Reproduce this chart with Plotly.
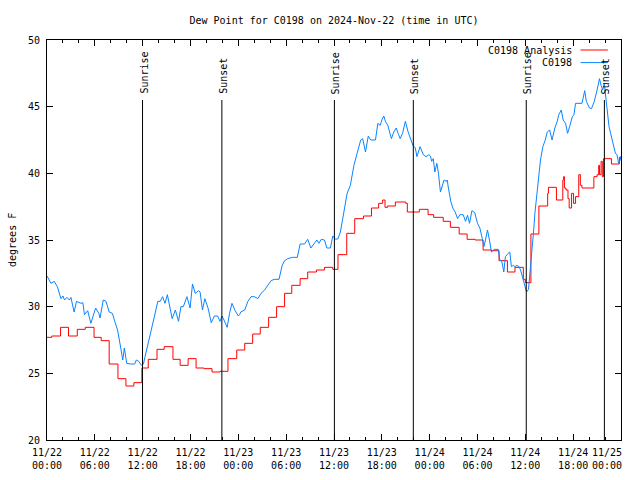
import pandas as pd
import plotly.graph_objects as go

start = pd.Timestamp("2024-11-22 00:00")

# C0198 observations: hours since 11/22 00:00 UTC, dew point (F)
blue_hours = [0.0, 0.3, 0.5, 0.9, 1.3, 1.75, 2.0, 2.2, 2.5, 2.8, 3.0, 3.4, 3.7, 4.26, 4.5, 4.7, 5.1, 5.5,
              6.1, 6.5, 6.65, 7.06, 7.4, 7.8, 8.2, 8.5, 8.85, 9.3, 9.5, 9.7, 10.0, 10.5, 11.0, 11.2, 11.5,
              11.85, 12.1, 12.3, 12.75, 13.15, 13.6, 13.9, 14.2, 14.5, 14.8, 15.1, 15.45, 15.7, 16.1, 16.5,
              16.8, 17.1, 17.55, 17.95, 18.25, 18.6, 19.0, 19.2, 19.5, 19.8, 20.2, 20.6, 21.0, 21.4, 21.7,
              21.95, 22.2, 22.6, 22.9, 23.2, 23.6, 24.0, 24.15, 24.3, 24.8, 25.2, 25.6, 26.0, 26.45, 26.85,
              27.3, 27.7, 28.1, 28.5, 29.1, 29.5, 29.8, 30.2, 30.8, 31.4, 31.75, 32.3, 32.7, 33.1, 33.5,
              33.85, 34.1, 34.4, 34.8, 35.1, 35.55, 35.85, 36.2, 36.5, 36.8, 37.2, 37.65, 38.05, 38.5, 38.9,
              39.35, 39.6, 39.95, 40.3, 40.6, 41.2, 41.5, 41.8, 42.0, 42.25, 42.45, 42.75, 43.0, 43.2, 43.5,
              43.8, 44.1, 44.3, 44.6, 44.95, 45.3, 45.6, 45.9, 46.2, 46.4, 46.8, 47.2, 47.55, 47.9, 48.1,
              48.25, 48.45, 48.65, 48.9, 49.1, 49.35, 49.55, 49.8, 50.1, 50.2, 50.35, 50.65, 50.9, 51.2,
              51.5, 51.8, 52.2, 52.5, 52.75, 53.0, 53.3, 53.65, 54.0, 54.3, 54.6, 54.8, 55.0, 55.25, 55.5,
              55.75, 56.1, 56.6, 56.8, 57.05, 57.3, 57.5, 57.85, 58.05, 58.25, 58.5, 58.7, 58.95, 59.2,
              59.4, 59.7, 59.95, 60.15, 60.4, 60.6, 60.85, 61.05, 61.2, 61.4, 61.65, 61.9, 62.2, 62.5,
              62.75, 63.05, 63.35, 63.7, 64.0, 64.2, 64.5, 64.75, 65.05, 65.3, 65.55, 65.9, 66.1, 66.3,
              67.1, 67.45, 67.65, 68.05, 68.3, 68.65, 69.0, 69.3, 69.5, 69.7, 69.9, 70.1, 70.3, 70.5, 70.7,
              70.9, 71.1, 71.3, 71.5, 71.7, 71.9, 72.0]
blue_values = [32.3, 32.0, 31.75, 31.9, 31.5, 30.6, 30.8, 30.5, 30.7, 30.5, 30.7, 29.6, 30.4, 30.25, 30.3, 29.4, 29.7, 28.75,
               29.9, 29.5, 29.15, 30.5, 30.4, 29.6, 29.5, 28.9, 28.25, 26.75, 26.0, 26.9, 25.75, 25.7, 25.7, 26.0, 25.9,
               25.6, 25.7, 26.25, 27.5, 28.6, 29.6, 30.4, 30.4, 30.75, 30.25, 30.9, 29.9, 29.1, 29.75, 28.9,
               30.0, 30.0, 30.75, 29.9, 31.7, 31.0, 31.2, 31.1, 29.75, 30.6, 29.9, 28.8, 29.3, 29.3, 28.9,
               29.3, 29.0, 28.45, 29.5, 30.25, 29.7, 29.3, 29.4, 29.6, 29.75, 30.4, 30.75, 30.75, 30.6, 31.0,
               31.25, 31.6, 31.95, 32.05, 32.05, 33.1, 33.45, 33.6, 33.7, 33.7, 34.7, 34.7, 35.05, 34.4, 34.75,
               35.0, 34.75, 35.05, 35.0, 34.4, 34.4, 35.3, 35.05, 35.1, 35.6, 36.9, 38.5, 39.1, 40.6, 41.5,
               42.5, 42.6, 41.6, 42.8, 42.5, 42.5, 43.75, 43.6, 44.0, 44.3, 43.9, 43.6, 43.1, 42.6, 43.1,
               43.4, 42.9, 42.6, 43.0, 43.9, 43.1, 42.6, 42.1, 41.9, 41.25, 42.0, 41.4, 41.25, 41.4, 41.3,
               40.9, 41.1, 40.1, 40.75, 40.0, 38.6, 39.1, 39.5, 39.4, 39.5, 38.9, 37.9, 37.4, 37.1,
               36.6, 36.9, 36.9, 36.4, 36.85, 36.25, 37.2, 37.05, 36.25, 35.9, 35.1, 34.5, 35.0, 35.75, 35.0,
               34.1, 34.3, 34.3, 33.5, 33.4, 32.6, 33.75, 34.0, 34.1, 33.0, 33.1, 33.0, 33.1, 33.0,
               32.75, 32.1, 31.5, 31.1, 31.3, 32.5, 34.5, 35.75, 37.0, 38.25, 39.75, 41.0, 42.0, 42.5,
               43.1, 43.25, 42.5, 43.4, 43.9, 44.4, 44.75, 44.0, 43.75, 43.0, 43.5, 44.25, 44.4, 45.25,
               45.25, 46.2, 45.4, 44.9, 44.85, 45.4, 46.25, 47.1, 46.6, 46.25, 46.75, 45.5, 44.4, 43.5, 43.0,
               42.5, 41.9, 41.5, 41.4, 40.75, 41.0, 41.3]

# C0198 Analysis: step start hours, dew point (F)
red_hours = [0.0, 0.6, 1.7, 2.7, 3.8, 4.8, 5.9, 6.8, 7.8, 8.9, 9.9, 10.9, 11.9, 12.7, 13.8, 14.7, 15.8,
             16.7, 17.7, 18.7, 19.7, 20.7, 21.7, 22.7, 23.8, 24.8, 25.8, 26.75, 27.8, 28.8, 29.8, 30.7,
             31.75, 32.7, 33.8, 34.8, 35.85, 36.5, 37.6, 38.6, 39.7, 40.7, 41.6, 42.1, 42.4, 42.7, 43.7,
             45.0, 45.2, 46.7, 47.8, 48.5, 49.7, 50.6, 51.7, 52.7, 53.7, 54.7, 55.75, 56.7, 57.75, 58.7,
             59.75, 60.0, 60.7, 61.7, 62.8, 62.9, 63.9, 64.7, 64.8, 64.9, 65.1, 65.35, 65.5, 65.8, 66.05,
             66.3, 66.7, 66.9, 67.1, 68.6, 69.0, 69.2, 69.3, 69.5, 69.65, 69.8, 70.8, 71.8, 72.0]
red_values = [27.7, 27.8, 28.45, 27.8, 28.3, 28.45, 27.7, 27.45, 25.7, 24.6, 24.05, 24.3, 25.4, 26.05, 26.8, 27.0, 26.05,
              25.6, 26.1, 25.4, 25.35, 25.1, 25.15, 26.1, 26.75, 27.25, 27.95, 28.45, 29.2, 30.0, 31.0, 31.6,
              32.1, 32.6, 32.75, 32.95, 32.8, 33.9, 35.5, 36.6, 36.8, 37.4, 37.75, 38.0, 37.45, 37.55, 37.85,
              37.75, 37.1, 37.3, 36.9, 36.7, 36.4, 35.95, 35.45, 35.05, 35.0, 34.25, 34.2, 33.45, 32.6, 32.95,
              32.05, 31.8, 35.45, 37.55, 38.5, 38.95, 38.0, 39.5, 39.75, 38.9, 38.75, 38.1, 37.4, 38.5, 37.75,
              38.25, 39.9, 39.1, 38.9, 39.75, 39.9, 40.6, 39.9, 40.9, 39.75, 41.1, 40.7, 41.2, 41.2]

sun_times = ["2024-11-22 11:59", "2024-11-22 21:56", "2024-11-23 12:03",
             "2024-11-23 21:57", "2024-11-24 12:07", "2024-11-24 21:55"]
sun_labels = ["Sunrise", "Sunset", "Sunrise", "Sunset", "Sunrise", "Sunset"]

# x tick positions every 6 h; the last label is drawn right-justified at the edge (as gnuplot does)
tick_times = list(pd.date_range("2024-11-22 00:00", "2024-11-25 00:00", freq="6h"))
tick_text = [t.strftime("%m/%d<br>%H:%M") for t in tick_times[:-1]] + [""]
last_label = tick_times[-1].strftime("%m/%d<br>%H:%M")

FONT = "DejaVu Sans Mono"

def to_time(hours):
    return [start + pd.Timedelta(hours=h) for h in hours]

fig = go.Figure()
fig.add_trace(go.Scatter(x=to_time(red_hours), y=red_values, mode="lines", line_shape="hv",
                         line=dict(color="#ff0000", width=1), name="C0198 Analysis"))
fig.add_trace(go.Scatter(x=to_time(blue_hours), y=blue_values, mode="lines",
                         line=dict(color="#0a84ff", width=1), name="C0198"))

for t, lab in zip(sun_times, sun_labels):
    fig.add_shape(type="line", xref="x", yref="y", x0=t, x1=t, y0=20, y1=45.5,
                  line=dict(color="black", width=1))
    fig.add_annotation(x=t, y=45.5, xref="x", yref="y", text=lab, textangle=-90,
                       showarrow=False, xanchor="center", yanchor="bottom", yshift=4, xshift=1,
                       font=dict(family=FONT, size=10, color="black"))

# legend (gnuplot style: label left of sample)
legend_rows = [("C0198 Analysis", "#ff0000", 0.975), ("C0198", "#0a84ff", 0.9435)]
for lab, col, yy in legend_rows:
    fig.add_annotation(x=0.918, y=yy, xref="paper", yref="paper", text=lab, showarrow=False,
                       xanchor="right", yanchor="middle", font=dict(family=FONT, size=10, color="black"))
    fig.add_shape(type="line", xref="paper", yref="paper", x0=0.9295, x1=0.977, y0=yy, y1=yy,
                  line=dict(color=col, width=1))

fig.add_annotation(x=-0.061, y=0.5, xref="paper", yref="paper", text="degrees F", textangle=-90,
                   showarrow=False, xanchor="center", yanchor="middle",
                   font=dict(family=FONT, size=10, color="black"))

fig.add_annotation(x=1.0, y=0, xref="paper", yref="paper", text=last_label, showarrow=False,
                   xanchor="right", yanchor="top", yshift=-5, xshift=3, align="center",
                   font=dict(family=FONT, size=10, color="black"))

fig.update_layout(
    width=640, height=480,
    margin=dict(l=47, r=19, t=40, b=40),
    paper_bgcolor="white", plot_bgcolor="white",
    showlegend=False,
    font=dict(family=FONT, size=10, color="black"),
    title=dict(text="Dew Point for C0198 on 2024-Nov-22 (time in UTC)", x=0.5, xref="paper",
               y=1 - 20 / 480, yanchor="middle", xanchor="center",
               font=dict(family=FONT, size=10, color="black")),
    xaxis=dict(type="date", range=["2024-11-22 00:00", "2024-11-25 00:00"],
               tickmode="array", tickvals=tick_times, ticktext=tick_text,
               ticks="inside", ticklen=6, tickcolor="black", showline=True, linecolor="black",
               linewidth=1, mirror="ticks", showgrid=False, zeroline=False, automargin=False,
               ticklabelstandoff=3,
               minor=dict(dtick=2 * 3600 * 1000, tick0="2024-11-22 00:00", ticks="inside",
                          ticklen=3, tickcolor="black", showgrid=False),
               tickfont=dict(family=FONT, size=10, color="black")),
    yaxis=dict(range=[20, 50], dtick=5, ticks="inside", ticklen=6, tickcolor="black",
               showline=True, linecolor="black", linewidth=1, mirror="ticks", showgrid=False,
               zeroline=False, ticklabelstandoff=4, automargin=False,
               tickfont=dict(family=FONT, size=10, color="black")),
)

fig.write_html("out.html", config={"displayModeBar": False},
               post_script="document.body.style.margin='0px';document.body.style.padding='0px';")
